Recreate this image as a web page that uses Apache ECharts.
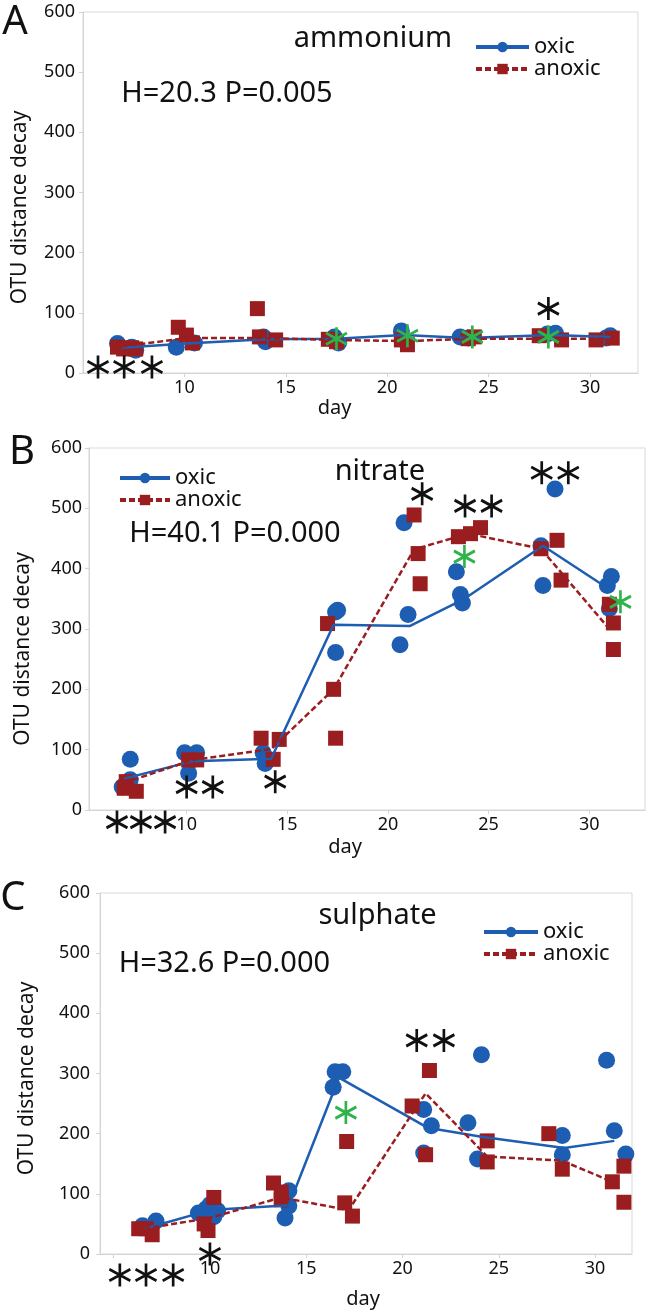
<!DOCTYPE html>
<html>
<head>
<meta charset="utf-8">
<script src="https://cdn.jsdelivr.net/npm/echarts@6/dist/echarts.min.js"></script>
<style>
  html, body { margin: 0; padding: 0; background: #fff; }
  #chart { width: 646px; height: 1315px; }
</style>
</head>
<body>
<div id="chart"></div>
<script>
// A - ammonium
var oxicPtsA = [[6.7, 49], [7.4, 43], [7.6, 38], [9.6, 43], [10.5, 50], [13.9, 60], [14.0, 52], [17.4, 60], [17.6, 50],
  [20.7, 70], [23.6, 60], [24.0, 58], [27.9, 65], [28.3, 66], [30.8, 58], [31.0, 62]];
var anoxPtsA = [[6.7, 43], [7.0, 40], [7.4, 42], [7.6, 40], [9.7, 76], [10.1, 63], [10.4, 50], [13.6, 107], [13.7, 60],
  [14.5, 55], [17.1, 56], [17.5, 52], [20.7, 55], [21.0, 47], [24.0, 57], [24.3, 60], [27.5, 62], [28.6, 55], [30.3, 55], [31.1, 58]];
var oxicLineA = [[6.9, 42], [10.1, 49], [14.0, 56], [17.5, 57], [20.8, 63], [23.9, 58], [28.1, 63], [31.0, 60]];
var anoxLineA = [[6.9, 44], [10.1, 58], [13.9, 58], [17.3, 55], [20.9, 53], [24.2, 57], [28.0, 57], [30.8, 57]];
var starsA = [[5.74, 10], [7.03, 10], [8.40, 10], [27.95, 107]];
var greenA = [[17.5, 57], [21.0, 62], [24.2, 60], [27.95, 60]];
var textA = [['ammonium', 19.3, 556], ['H=20.3 P=0.005', 12.1, 464]];

// B - nitrate
var oxicPtsB = [[6.8, 38], [7.2, 84], [7.2, 50], [9.9, 95], [10.5, 95], [10.1, 61], [13.8, 95], [13.9, 77], [14.0, 85],
  [17.4, 328], [17.5, 331], [17.4, 261], [20.8, 476], [21.0, 324], [20.6, 274], [23.4, 395], [23.6, 357], [23.7, 343],
  [28.3, 532], [27.6, 438], [27.7, 372], [30.9, 372], [31.1, 387], [31.0, 334]];
var anoxPtsB = [[6.9, 36], [7.0, 47], [7.5, 31], [10.1, 83], [10.5, 83], [13.7, 119], [14.3, 84], [14.6, 117],
  [17.0, 309], [17.3, 200], [17.4, 119], [21.3, 489], [21.5, 425], [21.6, 375], [23.5, 453], [24.1, 458], [24.6, 468],
  [27.6, 433], [28.4, 447], [28.6, 381], [31.0, 341], [31.2, 310], [31.2, 266]];
var oxicLineB = [[6.9, 52], [10.3, 81], [14.2, 85], [17.3, 307], [21.1, 305], [23.8, 350], [27.7, 438], [30.9, 368]];
var anoxLineB = [[6.9, 45], [10.3, 83], [14.2, 101], [17.3, 200], [21.3, 432], [24.0, 458], [27.6, 433], [31.0, 300]];
var starsB = [[6.54, -20], [7.73, -20], [8.93, -20], [10.0, 38], [11.3, 38], [14.4, 47], [21.7, 524],
  [23.83, 504], [25.15, 504], [27.64, 559], [28.96, 559]];
var greenB = [[23.8, 420], [31.55, 345]];
var textB = [['nitrate', 19.6, 560], ['H=40.1 P=0.000', 12.4, 458]];

// C - sulphate
var oxicPtsC = [[6.5, 47], [7.2, 55], [9.4, 68], [9.8, 75], [10.0, 82], [10.2, 62], [10.4, 72], [13.9, 98], [14.1, 105],
  [14.1, 80], [13.9, 60], [16.4, 277], [16.5, 303], [16.9, 303], [21.1, 240], [21.5, 213], [21.1, 168], [23.4, 218],
  [24.1, 331], [23.9, 158], [28.3, 197], [28.3, 165], [30.6, 322], [31.0, 205], [31.6, 166]];
var anoxPtsC = [[6.3, 42], [6.7, 42], [7.0, 32], [9.7, 50], [9.9, 39], [10.2, 94], [13.3, 118], [13.7, 103], [13.7, 90],
  [17.0, 85], [17.4, 63], [17.1, 187], [20.5, 246], [21.4, 305], [21.2, 165], [24.4, 188], [24.4, 153], [27.6, 200],
  [28.3, 141], [30.9, 120], [31.5, 146], [31.5, 86]];
var oxicLineC = [[6.6, 42], [10.0, 73], [14.1, 81], [16.7, 293], [21.3, 210], [24.1, 195], [28.4, 176], [31.0, 188]];
var anoxLineC = [[6.6, 42], [10.0, 60], [13.7, 94], [17.2, 73], [21.2, 267], [24.4, 162], [28.3, 155], [30.9, 120]];
var starsC = [[5.32, -35], [6.68, -35], [8.09, -35], [10.0, 0], [20.74, 355], [22.15, 355]];
var greenC = [[17.06, 235]];
var textC = [['sulphate', 18.7, 563], ['H=32.6 P=0.000', 10.75, 483]];

var yTicks = [0, 100, 200, 300, 400, 500, 600];
var firstDayLabel = 10; // the day axes show no label before 10

var BLUE = '#1d5db2', RED = '#9a1d1f', GREEN = '#2fb34b', INK = '#111', FONT = '"Noto Sans", "DejaVu Sans", sans-serif';
var STAR = 'path://M10,0L10,20M1.34,5L18.66,15M1.34,15L18.66,5';

// layout of each panel (pixels)
var panels = [
  { letter: 'A', grid: { left: 83, top: 12, width: 555, height: 361 }, xMin: 5, xMax: 32.37, yLabMargin: 8,
    yGap: 52, yPad: 30, xGap: 22, xPad: 52, legend: { left: 469, top: 31, itemWidth: 53 },
    oxicPts: oxicPtsA, anoxPts: anoxPtsA, oxicLine: oxicLineA, anoxLine: anoxLineA, stars: starsA, green: greenA, text: textA },
  { letter: 'B', grid: { left: 89, top: 448, width: 556, height: 362 }, xMin: 5.15, xMax: 32.77, yLabMargin: 7,
    yGap: 55, yPad: 40, xGap: 27, xPad: 44, legend: { left: 113, top: 462, itemWidth: 50 },
    oxicPts: oxicPtsB, anoxPts: anoxPtsB, oxicLine: oxicLineB, anoxLine: anoxLineB, stars: starsB, green: greenB, text: textB },
  { letter: 'C', grid: { left: 100, top: 893, width: 532, height: 361 }, xMin: 4.29, xMax: 31.92, yLabMargin: 10,
    yGap: 62, yPad: 10, xGap: 35, xPad: 6, legend: { left: 477, top: 916, itemWidth: 54 },
    oxicPts: oxicPtsC, anoxPts: anoxPtsC, oxicLine: oxicLineC, anoxLine: anoxLineC, stars: starsC, green: greenC, text: textC }
];
var letterPos = [[15, 23], [22, 453], [13, 899]];

var grids = [], xAxes = [], yAxes = [], series = [], legends = [], graphics = [];

panels.forEach(function (p, i) {
  grids.push(Object.assign({ show: true, borderColor: '#d9d9d9', borderWidth: 1, backgroundColor: '#fff' }, p.grid));
  xAxes.push({
    type: 'value', gridIndex: i, min: p.xMin, max: p.xMax,
    name: 'day', nameLocation: 'middle', nameGap: p.xGap,
    nameTextStyle: { fontSize: 20, color: INK, fontFamily: FONT, padding: [0, p.xPad, 0, 0], verticalAlign: 'top' },
    axisLine: { show: true, lineStyle: { color: '#d4d4d4' } },
    axisTick: { show: true, length: 4, lineStyle: { color: '#d4d4d4' } },
    splitLine: { show: false },
    axisLabel: {
      fontSize: 18, color: INK, fontFamily: FONT, margin: 6, showMinLabel: false, showMaxLabel: false,
      formatter: function (v) { return v < firstDayLabel ? '' : String(v); }
    }
  });
  yAxes.push({
    type: 'value', gridIndex: i, min: yTicks[0], max: yTicks[yTicks.length - 1], interval: yTicks[1] - yTicks[0],
    name: 'OTU distance decay', nameLocation: 'middle', nameGap: p.yGap,
    nameTextStyle: { fontSize: 21, color: INK, fontFamily: FONT, padding: [0, p.yPad, 0, 0] },
    axisLine: { show: true, lineStyle: { color: '#d4d4d4' } },
    axisTick: { show: true, length: 4, lineStyle: { color: '#d4d4d4' } },
    splitLine: { show: false },
    axisLabel: { fontSize: 18, color: INK, fontFamily: FONT, margin: p.yLabMargin }
  });

  series.push(
    { type: 'scatter', name: 'oxic pts', xAxisIndex: i, yAxisIndex: i, data: p.oxicPts, symbol: 'circle', symbolSize: 17,
      itemStyle: { color: BLUE, opacity: 1 }, z: 2 },
    { type: 'scatter', name: 'anoxic pts', xAxisIndex: i, yAxisIndex: i, data: p.anoxPts, symbol: 'rect', symbolSize: 15,
      itemStyle: { color: RED, opacity: 1 }, z: 3 },
    { type: 'line', name: 'oxic', xAxisIndex: i, yAxisIndex: i, data: p.oxicLine, symbol: 'circle', showSymbol: false,
      lineStyle: { color: BLUE, width: 2.5 }, itemStyle: { color: BLUE }, z: 4 },
    { type: 'line', name: 'anoxic', xAxisIndex: i, yAxisIndex: i, data: p.anoxLine, symbol: 'rect', showSymbol: false,
      lineStyle: { color: RED, width: 2.5, type: [6, 3] }, itemStyle: { color: RED }, z: 4 },
    { type: 'scatter', name: 'sig', xAxisIndex: i, yAxisIndex: i, data: p.stars, symbol: STAR, symbolSize: [21, 23], clip: false,
      itemStyle: { color: INK, borderColor: INK, borderWidth: 2.8, opacity: 1 }, z: 6 },
    { type: 'scatter', name: 'sig2', xAxisIndex: i, yAxisIndex: i, data: p.green, symbol: STAR, symbolSize: [21, 23], clip: false,
      itemStyle: { color: GREEN, borderColor: GREEN, borderWidth: 2.8, opacity: 1 }, z: 7 },
    { type: 'scatter', name: 'text', xAxisIndex: i, yAxisIndex: i, symbolSize: 1, clip: false,
      data: p.text.map(function (t) { return { name: t[0], value: [t[1], t[2]] }; }),
      itemStyle: { color: 'transparent' },
      label: { show: true, position: 'inside', formatter: '{b}', fontSize: 29, color: INK, fontFamily: FONT, opacity: 1 }, z: 8 }
  );

  legends.push({
    data: ['oxic', 'anoxic'], orient: 'vertical', left: p.legend.left, top: p.legend.top,
    itemWidth: p.legend.itemWidth, itemHeight: 13, itemGap: 0,
    lineStyle: { width: 4 },
    textStyle: { fontSize: 22, color: INK, fontFamily: FONT, lineHeight: 22 },
    selectedMode: false
  });

  graphics.push({
    type: 'text', x: letterPos[i][0], y: letterPos[i][1],
    style: { text: p.letter, fontSize: 40, fill: INK, fontFamily: FONT, align: 'center', verticalAlign: 'middle' }
  });
});

var chart = echarts.init(document.getElementById('chart'), null, { renderer: 'canvas' });
chart.setOption({
  animation: false,
  backgroundColor: '#fff',
  grid: grids,
  xAxis: xAxes,
  yAxis: yAxes,
  legend: legends,
  series: series,
  graphic: graphics
});
</script>
</body>
</html>
